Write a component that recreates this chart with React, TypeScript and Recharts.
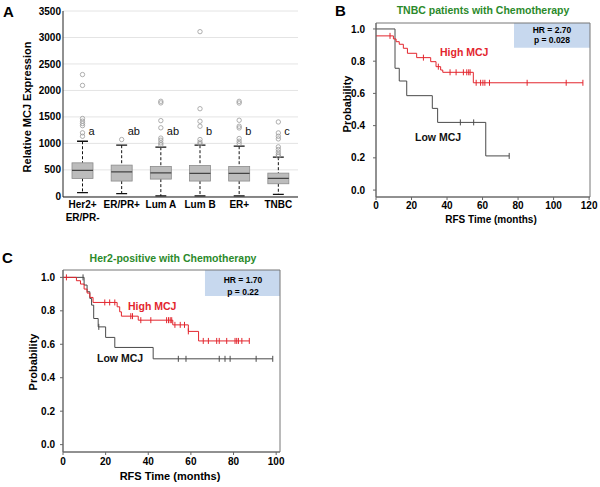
import React from 'react';
import { ComposedChart, Bar, Line, Scatter, XAxis, YAxis, CartesianGrid, ReferenceArea } from 'recharts';

const FONT = '"Liberation Sans", Arial, Helvetica, sans-serif';

// ---------- Panel A: box plot data ----------
const categories = ['Her2+\nER/PR-', 'ER/PR+', 'Lum A', 'Lum B', 'ER+', 'TNBC'];
const mins = [70, 50, 8, 8, 8, 38];
const q1s = [339, 289, 326, 289, 289, 238];
const medians = [489, 464, 445, 433, 433, 339];
const q3s = [633, 590, 565, 583, 565, 439];
const maxs = [1041, 966, 928, 966, 947, 740];
const outliers = [
  [2300, 2095, 1470, 1420, 1375, 1335, 1200, 1135],
  [1073],
  [1795, 1765, 1430, 1295, 1100, 1060, 1010, 975],
  [3110, 1655, 1418, 1324, 1073, 1023, 991],
  [1794, 1763, 1437, 1324, 1292, 1092, 1041, 997],
  [1405, 1198, 1135, 1085, 935, 885, 834, 790, 759],
];
const groupLetters = ['a', 'ab', 'ab', 'b', 'b', 'c'];
const letterLevel = 1230;
const yTicksA = [0, 500, 1000, 1500, 2000, 2500, 3000, 3500];

// ---------- Panel B: TNBC patients with chemotherapy ----------
const lowB = [
  { t: 0, s: 1.0 }, { t: 10.7, s: 0.756 }, { t: 13.1, s: 0.677 }, { t: 17.3, s: 0.586 },
  { t: 31.7, s: 0.507 }, { t: 34.7, s: 0.42 }, { t: 61.8, s: 0.212 }, { t: 75, s: 0.212 },
];
const lowBCensor = [{ t: 47.5, s: 0.42 }, { t: 55, s: 0.42 }, { t: 75, s: 0.212 }];
const highB = [
  { t: 0, s: 0.957 }, { t: 9.8, s: 0.938 }, { t: 11.3, s: 0.921 }, { t: 13.1, s: 0.905 },
  { t: 15.4, s: 0.88 }, { t: 17.7, s: 0.849 }, { t: 22.9, s: 0.822 }, { t: 30.8, s: 0.797 },
  { t: 33.8, s: 0.766 }, { t: 36.4, s: 0.745 }, { t: 37.6, s: 0.731 }, { t: 54.8, s: 0.666 },
  { t: 116.5, s: 0.666 },
];
const highBCensor = [
  { t: 7.9, s: 0.957 }, { t: 26.7, s: 0.822 }, { t: 35.1, s: 0.766 },
  { t: 41.7, s: 0.731 }, { t: 45.1, s: 0.731 }, { t: 49.2, s: 0.731 }, { t: 51.1, s: 0.731 },
  { t: 52.2, s: 0.731 }, { t: 53, s: 0.731 },
  { t: 56.4, s: 0.666 }, { t: 58.9, s: 0.666 }, { t: 60.2, s: 0.666 }, { t: 61.3, s: 0.666 },
  { t: 63.9, s: 0.666 }, { t: 85.1, s: 0.666 }, { t: 107.1, s: 0.666 }, { t: 116.5, s: 0.666 },
];
const xTicksB = [0, 20, 40, 60, 80, 100, 120];

// ---------- Panel C: Her2-positive with chemotherapy ----------
const lowC = [
  { t: 0, s: 1.0 }, { t: 9.9, s: 0.954 }, { t: 11.3, s: 0.914 }, { t: 12.6, s: 0.874 },
  { t: 13.4, s: 0.834 }, { t: 14.4, s: 0.754 }, { t: 16.5, s: 0.704 }, { t: 20, s: 0.641 },
  { t: 24.3, s: 0.581 }, { t: 42.3, s: 0.513 }, { t: 98.4, s: 0.513 },
];
const lowCCensor = [
  { t: 9.4, s: 1.0 }, { t: 16.8, s: 0.704 }, { t: 54.1, s: 0.513 }, { t: 57.7, s: 0.513 },
  { t: 73.3, s: 0.513 }, { t: 76, s: 0.513 }, { t: 78.4, s: 0.513 }, { t: 90.6, s: 0.513 },
  { t: 98.4, s: 0.513 },
];
const highC = [
  { t: 0, s: 1.0 }, { t: 6.3, s: 0.98 }, { t: 8.2, s: 0.96 }, { t: 9.9, s: 0.93 },
  { t: 11.3, s: 0.906 }, { t: 12.6, s: 0.88 }, { t: 14.1, s: 0.85 }, { t: 25.4, s: 0.824 },
  { t: 26.6, s: 0.794 }, { t: 27.4, s: 0.768 }, { t: 35.3, s: 0.744 }, { t: 51.5, s: 0.716 },
  { t: 58.8, s: 0.677 }, { t: 63.6, s: 0.62 }, { t: 87.4, s: 0.62 },
];
const highCCensor = [
  { t: 1.6, s: 1.0 }, { t: 19.6, s: 0.85 }, { t: 21.9, s: 0.85 }, { t: 24.3, s: 0.85 },
  { t: 31.8, s: 0.768 }, { t: 32.6, s: 0.768 }, { t: 36.5, s: 0.744 }, { t: 41.2, s: 0.744 },
  { t: 48.6, s: 0.744 }, { t: 49.5, s: 0.744 }, { t: 50.3, s: 0.744 }, { t: 51, s: 0.744 },
  { t: 52.5, s: 0.716 }, { t: 55, s: 0.716 }, { t: 57, s: 0.716 }, { t: 58.8, s: 0.677 },
  { t: 65.8, s: 0.62 }, { t: 68.2, s: 0.62 }, { t: 72.1, s: 0.62 }, { t: 73.3, s: 0.62 },
  { t: 76.8, s: 0.62 }, { t: 80.7, s: 0.62 }, { t: 81.5, s: 0.62 }, { t: 82.3, s: 0.62 },
  { t: 83.9, s: 0.62 }, { t: 87.4, s: 0.62 },
];
const xTicksC = [0, 20, 40, 60, 80, 100];
const yTicksKM = [0, 0.2, 0.4, 0.6, 0.8, 1.0];

const RED = '#e3262e';
const DARK = '#4a4a4a';

const boxData = categories.map((name, i) => ({
  name,
  range: [mins[i], maxs[i]],
  min: mins[i], q1: q1s[i], median: medians[i], q3: q3s[i], max: maxs[i],
  outliers: outliers[i], letter: groupLetters[i],
}));

const BoxShape = (props: any) => {
  const { x, y, width, height, payload } = props;
  const top = Math.min(y, y + height);
  const h = Math.abs(height);
  const k = h / (payload.max - payload.min);
  const yOf = (v: number) => top + (payload.max - v) * k;
  const cx = x + width / 2;
  const capW = width * 0.52;
  return (
    <g>
      <line x1={cx} x2={cx} y1={yOf(payload.max)} y2={yOf(payload.q3)} stroke="#111" strokeDasharray="3 2" />
      <line x1={cx} x2={cx} y1={yOf(payload.q1)} y2={yOf(payload.min)} stroke="#111" strokeDasharray="3 2" />
      <line x1={cx - capW / 2} x2={cx + capW / 2} y1={yOf(payload.max)} y2={yOf(payload.max)} stroke="#111" strokeWidth={1.3} />
      <line x1={cx - capW / 2} x2={cx + capW / 2} y1={yOf(payload.min)} y2={yOf(payload.min)} stroke="#111" strokeWidth={1.3} />
      <rect x={x} y={yOf(payload.q3)} width={width} height={yOf(payload.q1) - yOf(payload.q3)} fill="#bcbcbc" stroke="#8c8c8c" strokeWidth={0.8} />
      <line x1={x} x2={x + width} y1={yOf(payload.median)} y2={yOf(payload.median)} stroke="#444" strokeWidth={1.2} />
      {payload.outliers.map((v: number, j: number) => (
        <circle key={j} cx={cx} cy={yOf(v)} r={2.2} fill="none" stroke="#9a9a9a" strokeWidth={0.8} />
      ))}
      <text x={cx + 6} y={yOf(letterLevel) + 4} fontFamily={FONT} fontSize={11} fill="#111">{payload.letter}</text>
    </g>
  );
};

const CatTick = (props: any) => {
  const { x, y, payload } = props;
  const lines = String(payload.value).split('\n');
  return (
    <text x={x} y={y} textAnchor="middle" fontFamily={FONT} fontWeight="bold" fontSize={10} fill="#000">
      {lines.map((l, i) => (
        <tspan key={i} x={x} dy={i === 0 ? 11 : 13}>{l}</tspan>
      ))}
    </text>
  );
};

const censorShape = (color: string) => (props: any) => {
  const { cx, cy } = props;
  return <line x1={cx} x2={cx} y1={cy - 3} y2={cy + 3} stroke={color} strokeWidth={1} />;
};

const tickStyle = { fontFamily: FONT, fontWeight: 'bold' as const, fontSize: 10, fill: '#000' };

const KMChart = (p: {
  width: number; height: number; margin: any; xDomain: [number, number]; yDomain: [number, number];
  xTicks: number[]; low: any[]; lowCensor: any[]; high: any[]; highCensor: any[];
  hrX: number; hrY: number; yTickMargin: number; xTickMargin: number;
}) => (
  <ComposedChart width={p.width} height={p.height} margin={p.margin}>
    <XAxis type="number" dataKey="t" domain={p.xDomain} ticks={p.xTicks} allowDataOverflow
      tick={tickStyle} tickSize={3} tickMargin={p.xTickMargin} height={30}
      axisLine={{ stroke: '#666' }} tickLine={{ stroke: '#666' }} interval={0} />
    <YAxis type="number" domain={p.yDomain} ticks={yTicksKM} allowDataOverflow
      tick={tickStyle} tickSize={3} tickMargin={p.yTickMargin} width={40}
      tickFormatter={(v: number) => v.toFixed(1)}
      axisLine={{ stroke: '#666' }} tickLine={{ stroke: '#666' }} interval={0} />
    <ReferenceArea x1={p.hrX} x2={p.xDomain[1]} y1={p.hrY} y2={p.yDomain[1]}
      fill="#c7d8ee" fillOpacity={1} stroke="none" ifOverflow="visible" />
    <Line data={p.low} dataKey="s" type="stepAfter" stroke={DARK} strokeWidth={1} dot={false} isAnimationActive={false} />
    <Line data={p.high} dataKey="s" type="stepAfter" stroke={RED} strokeWidth={1} dot={false} isAnimationActive={false} />
    <Scatter data={p.lowCensor} dataKey="s" shape={censorShape(DARK)} isAnimationActive={false} />
    <Scatter data={p.highCensor} dataKey="s" shape={censorShape(RED)} isAnimationActive={false} />
    <ReferenceArea x1={p.xDomain[0]} x2={p.xDomain[1]} y1={p.yDomain[0]} y2={p.yDomain[1]}
      fill="none" stroke="#777" strokeWidth={1} ifOverflow="visible" />
  </ComposedChart>
);

const T = (props: any) => (
  <text fontFamily={FONT} fontWeight="bold" {...props} />
);

export default function App() {
  return (
    <div style={{ position: 'absolute', left: 0, top: 0, width: 600, height: 487, background: '#fff', overflow: 'hidden' }}>
      {/* Panel A */}
      <div style={{ position: 'absolute', left: 0, top: 0 }}>
        <ComposedChart width={300} height={240} data={boxData} margin={{ top: 11, right: 2, bottom: 13, left: 18 }}>
          <CartesianGrid vertical={false} stroke="#e4e4e4" />
          <XAxis dataKey="name" type="category" tick={<CatTick />} tickLine={false} tickSize={0} tickMargin={0}
            height={30} axisLine={{ stroke: '#222' }} interval={0} />
          <YAxis type="number" domain={[-12, 3500]} ticks={yTicksA} allowDataOverflow tick={tickStyle}
            tickLine={false} tickSize={0} tickMargin={2} width={45} axisLine={{ stroke: '#222' }} interval={0} />
          <Bar dataKey="range" barSize={21} shape={<BoxShape />} isAnimationActive={false} />
          <ReferenceArea fill="none" stroke="#333" strokeWidth={1} ifOverflow="visible" />
        </ComposedChart>
      </div>
      {/* Panel B */}
      <div style={{ position: 'absolute', left: 300, top: 0 }}>
        <KMChart width={300} height={240} margin={{ top: 23, right: 10, bottom: 13, left: 36 }}
          xDomain={[0, 120.5]} yDomain={[-0.043, 1.037]} xTicks={xTicksB}
          low={lowB} lowCensor={lowBCensor} high={highB} highCensor={highBCensor}
          hrX={77.7} hrY={0.884} yTickMargin={8} xTickMargin={2} />
      </div>
      {/* Panel C */}
      <div style={{ position: 'absolute', left: 0, top: 250 }}>
        <KMChart width={300} height={237} margin={{ top: 20, right: 20, bottom: 5, left: 23 }}
          xDomain={[0, 101.8]} yDomain={[-0.044, 1.044]} xTicks={xTicksC}
          low={lowC} lowCensor={lowCCensor} high={highC} highCensor={highCCensor}
          hrX={66.6} hrY={0.888} yTickMargin={5} xTickMargin={3} />
      </div>
      {/* Text annotations */}
      <svg width={600} height={487} style={{ position: 'absolute', left: 0, top: 0, pointerEvents: 'none' }}>
        <T x={3} y={17} fontSize={15}>A</T>
        <T x={335} y={16} fontSize={15}>B</T>
        <T x={2} y={263} fontSize={15}>C</T>
        <T x={0} y={0} fontSize={11} textAnchor="middle" transform="translate(31,107) rotate(-90)">Relative MCJ Expression</T>

        <T x={483} y={14} fontSize={10.5} textAnchor="middle" fill="#2b8a2b">TNBC patients with Chemotherapy</T>
        <T x={0} y={0} fontSize={11} textAnchor="middle" transform="translate(351,104) rotate(-90)">Probability</T>
        <T x={491} y={223} fontSize={10} textAnchor="middle">RFS Time (months)</T>
        <T x={440} y={56} fontSize={10.5} fill={RED}>High MCJ</T>
        <T x={415} y={141} fontSize={10.5} fill="#111">Low MCJ</T>
        <T x={552} y={32.5} fontSize={8.5} textAnchor="middle">HR = 2.70</T>
        <T x={552} y={42.5} fontSize={8.5} textAnchor="middle">p = 0.028</T>

        <T x={173} y={262} fontSize={10.5} textAnchor="middle" fill="#2b8a2b">Her2-positive with Chemotherapy</T>
        <T x={0} y={0} fontSize={11} textAnchor="middle" transform="translate(37,362) rotate(-90)">Probability</T>
        <T x={170} y={480} fontSize={11} textAnchor="middle">RFS Time (months)</T>
        <T x={128} y={310} fontSize={10.5} fill={RED}>High MCJ</T>
        <T x={97} y={362} fontSize={10.5} fill="#111">Low MCJ</T>
        <T x={243} y={282.5} fontSize={8.5} textAnchor="middle">HR = 1.70</T>
        <T x={243} y={295} fontSize={8.5} textAnchor="middle">p = 0.22</T>
      </svg>
    </div>
  );
}
